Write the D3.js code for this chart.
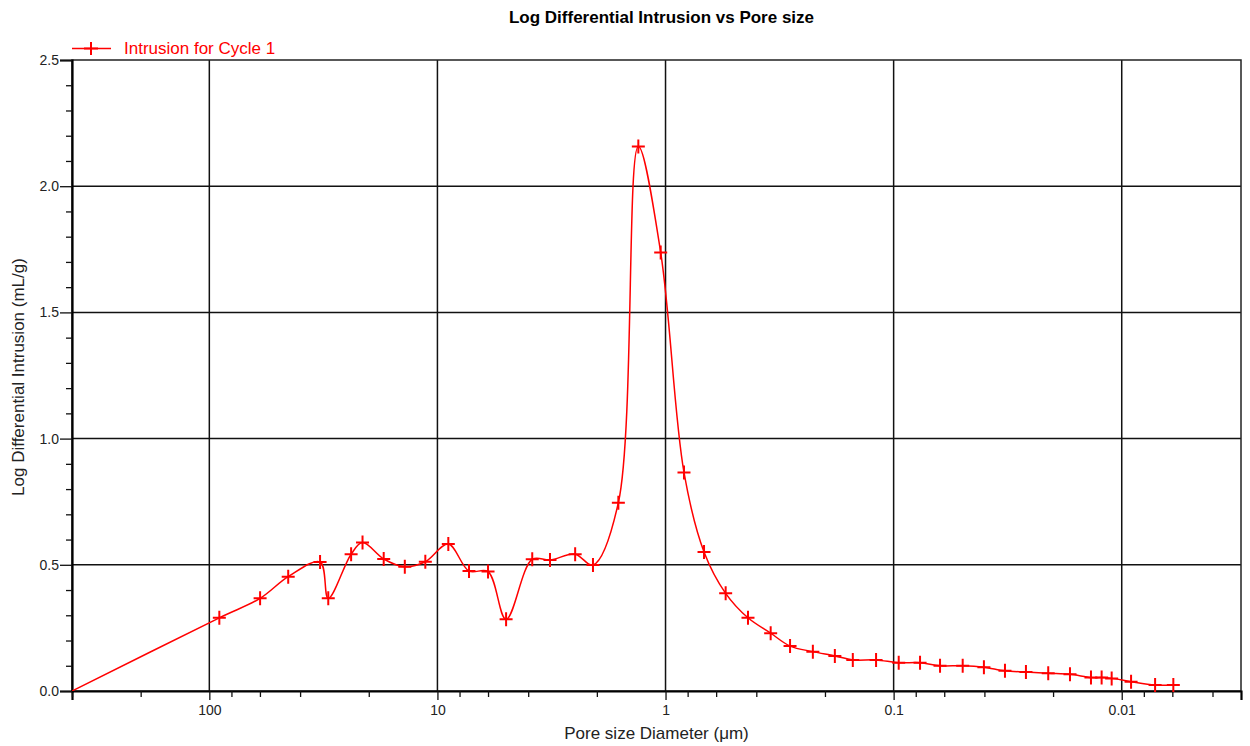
<!DOCTYPE html>
<html>
<head>
<meta charset="utf-8">
<script src="https://cdn.jsdelivr.net/npm/d3@7"></script>
<style>
  html, body { margin: 0; padding: 0; background: #fff; }
  svg { display: block; font-family: "Liberation Sans", Arial, sans-serif; }
</style>
</head>
<body>
<svg id="chart" width="1250" height="746"></svg>
<script>
// ---- data ----
const poreSize = [400, 90.4, 59.9, 45.1, 32.7, 30.1, 23.9, 21.3, 17.2, 13.9, 11.3, 8.96, 7.27, 6.0, 5.0,
  3.84, 3.21, 2.49, 2.08, 1.61, 1.316, 1.05, 0.830, 0.678, 0.545, 0.435, 0.346, 0.2845, 0.226, 0.181,
  0.151, 0.1194, 0.095, 0.0766, 0.0626, 0.0498, 0.0402, 0.0325, 0.0263, 0.0210, 0.01686, 0.01364,
  0.01225, 0.01107, 0.0091, 0.00714, 0.00594];
const logDiffIntrusion = [0.0, 0.290, 0.367, 0.453, 0.511, 0.367, 0.542, 0.588, 0.523, 0.492, 0.512, 0.582,
  0.475, 0.473, 0.284, 0.522, 0.519, 0.542, 0.499, 0.746, 2.157, 1.737, 0.866, 0.551, 0.387, 0.290,
  0.229, 0.178, 0.156, 0.139, 0.123, 0.123, 0.112, 0.112, 0.100, 0.100, 0.094, 0.080, 0.075, 0.070,
  0.066, 0.053, 0.053, 0.050, 0.037, 0.024, 0.024];
const xDomain = [400, 0.003];
const xMajorTicks = [100, 10, 1, 0.1, 0.01];
const xMajorLabels = ["100", "10", "1", "0.1", "0.01"];
const xMinorTicks = [400, 200, 80, 60, 40, 20, 8, 6, 4, 2, 0.8, 0.6, 0.4, 0.2,
  0.08, 0.06, 0.04, 0.02, 0.008, 0.006, 0.004];
const yDomain = [0, 2.5];
const yMajorTicks = [0, 0.5, 1.0, 1.5, 2.0, 2.5];
const yMinorTicks = [0.1, 0.2, 0.3, 0.4, 0.6, 0.7, 0.8, 0.9, 1.1, 1.2, 1.3, 1.4, 1.6, 1.7, 1.8, 1.9, 2.1, 2.2, 2.3, 2.4];
const seriesName = "Intrusion for Cycle 1";
const titleText = "Log Differential Intrusion vs Pore size";
const xTitle = "Pore size Diameter (\u03bcm)";
const yTitle = "Log Differential Intrusion (mL/g)";

// ---- layout ----
const L = 72, R = 1241, T = 60, B = 691;
const svg = d3.select("#chart");
const x = d3.scaleLog().domain(xDomain).range([L, R]);
const y = d3.scaleLinear().domain(yDomain).range([B, T]);
const red = "#ff0000";

// grid
const grid = svg.append("g");
grid.selectAll("line.vx").data(xMajorTicks).join("line")
  .attr("x1", d => x(d)).attr("x2", d => x(d)).attr("y1", T).attr("y2", B)
  .attr("stroke", "#111").attr("stroke-width", 1.5);
grid.selectAll("line.hy").data(yMajorTicks.filter(d => d > 0 && d < 2.5)).join("line")
  .attr("x1", L).attr("x2", R).attr("y1", d => y(d)).attr("y2", d => y(d))
  .attr("stroke", "#111").attr("stroke-width", 1.5);

// frame (top/right)
svg.append("rect").attr("x", L).attr("y", T).attr("width", R - L).attr("height", B - T)
  .attr("fill", "none").attr("stroke", "#222").attr("stroke-width", 1.5);

// x axis
const xAxis = svg.append("g").attr("transform", `translate(0,${B})`)
  .call(d3.axisBottom(x).tickValues(xMajorTicks).tickSize(9).tickPadding(5)
    .tickFormat((d, i) => xMajorLabels[i]));
xAxis.select(".domain").attr("stroke", "#000").attr("stroke-width", 2.2);
const xMinor = svg.append("g").attr("transform", `translate(0,${B})`)
  .call(d3.axisBottom(x).tickValues(xMinorTicks).tickSize(6).tickFormat(""));
xMinor.select(".domain").remove();

// y axis
const yAxis = svg.append("g").attr("transform", `translate(${L},0)`)
  .call(d3.axisLeft(y).tickValues(yMajorTicks).tickSize(12).tickPadding(1)
    .tickFormat(d3.format(".1f")));
yAxis.select(".domain").attr("stroke", "#000").attr("stroke-width", 2.2);
const yMinor = svg.append("g").attr("transform", `translate(${L},0)`)
  .call(d3.axisLeft(y).tickValues(yMinorTicks).tickSize(6).tickFormat(""));
yMinor.select(".domain").remove();

svg.selectAll(".tick line").attr("stroke", "#111").attr("stroke-width", 1.3);
svg.selectAll(".tick text").attr("font-size", 14).attr("fill", "#222")
  .attr("font-family", "Liberation Sans, Arial, sans-serif");

// clip
svg.append("clipPath").attr("id", "clip").append("rect")
  .attr("x", L).attr("y", T - 10).attr("width", R - L).attr("height", B - T + 10);

// line
const pts = poreSize.map((d, i) => [d, logDiffIntrusion[i]]);
const line = d3.line().x(d => x(d[0])).y(d => y(d[1])).curve(d3.curveCatmullRom.alpha(0.5));
svg.append("path").attr("d", line(pts)).attr("fill", "none")
  .attr("stroke", red).attr("stroke-width", 1.5).attr("clip-path", "url(#clip)");

// markers
const mk = svg.append("g");
pts.slice(1).forEach(p => {
  const cx = x(p[0]), cy = y(p[1]);
  mk.append("path").attr("d", `M${cx - 6.5},${cy}H${cx + 6.5}M${cx},${cy - 7}V${cy + 7}`)
    .attr("stroke", red).attr("stroke-width", 2).attr("fill", "none");
});

// legend
const lg = svg.append("g");
lg.append("line").attr("x1", 72).attr("x2", 111).attr("y1", 48.5).attr("y2", 48.5)
  .attr("stroke", red).attr("stroke-width", 1.5);
lg.append("path").attr("d", `M84,48.5H98M91,42V55`).attr("stroke", red).attr("stroke-width", 2);
lg.append("text").attr("x", 124).attr("y", 53.5).attr("font-size", 17).attr("fill", red).text(seriesName);

// titles
svg.append("text").attr("x", 661.5).attr("y", 23).attr("text-anchor", "middle")
  .attr("font-size", 17).attr("font-weight", "bold").attr("fill", "#000").text(titleText);
svg.append("text").attr("x", 656.5).attr("y", 739).attr("text-anchor", "middle")
  .attr("font-size", 17).attr("fill", "#222").text(xTitle);
svg.append("text").attr("transform", `translate(24,377) rotate(-90)`).attr("text-anchor", "middle")
  .attr("font-size", 17).attr("fill", "#222").text(yTitle);
</script>
</body>
</html>
